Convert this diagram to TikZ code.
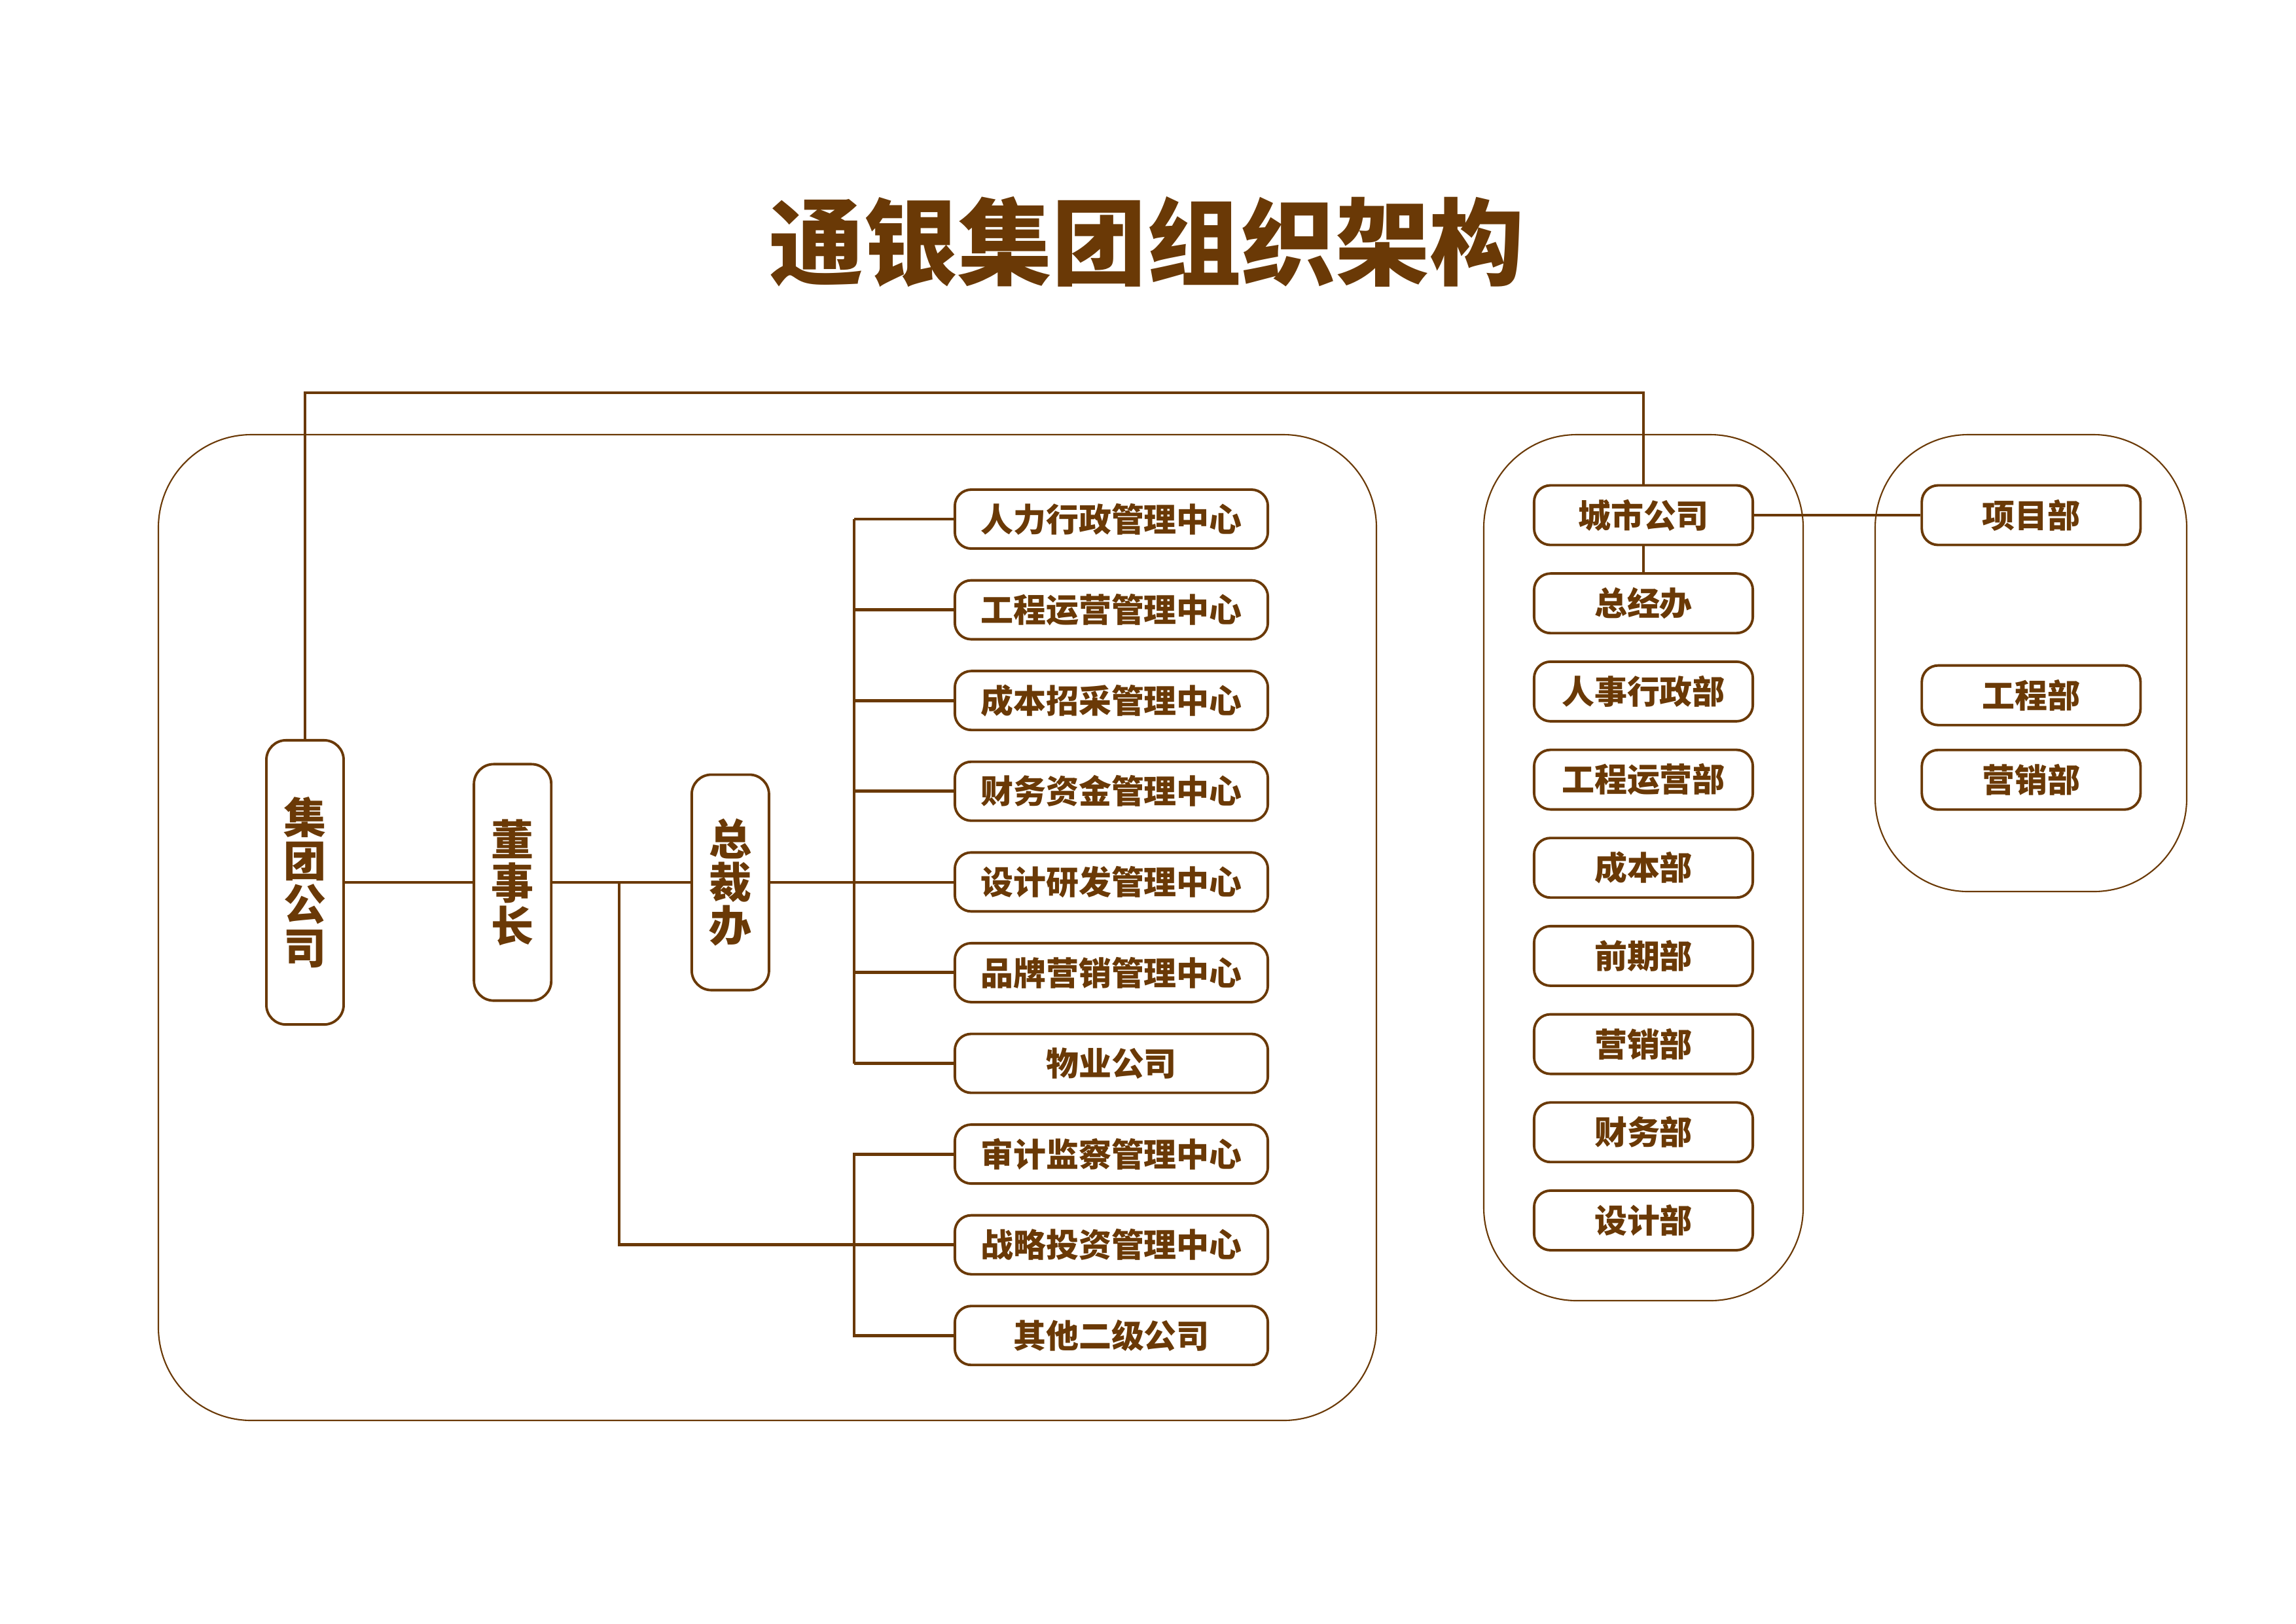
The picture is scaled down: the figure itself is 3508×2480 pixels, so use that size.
\documentclass[tikz,border=0pt]{standalone}
\usepackage{fontspec}
\setmainfont{Noto Sans CJK SC}
\usetikzlibrary{positioning}

\definecolor{brn}{HTML}{6A3906}

\tikzset{
  panel/.style={draw=brn,line width=0.6pt,rounded corners=1.42cm},
  vbox/.style={draw=brn,line width=1.1pt,rounded corners=0.3cm,fill=white,
    minimum width=1.18cm,inner sep=0pt,align=center,text=brn,
    font=\fontsize{18.5}{18.8}\selectfont\bfseries},
  hbox/.style={draw=brn,line width=1.1pt,rounded corners=0.25cm,fill=white,
    minimum width=4.78cm,minimum height=0.9cm,inner sep=0pt,text=brn,
    font=\fontsize{14.2}{16}\selectfont\bfseries},
  dbox/.style={hbox,minimum width=3.34cm,minimum height=0.91cm},
  link/.style={draw=brn,line width=1.4pt}
}

\begin{document}
\begin{tikzpicture}[x=0.01cm,y=-0.01cm,node distance=2cm,on grid]
   \useasboundingbox (0,0) rectangle (3508,2480);
   \fill[white] (0,0) rectangle (3508,2480);

   \node[text=brn,font=\fontsize{41}{45}\selectfont\bfseries] (title) at (1752,370) {通银集团组织架构};

   % panels
   \draw[panel] (242,664) rectangle (2103,2170);
   \draw[panel] (2267,664) rectangle (2755,1987);
   \draw[panel] (2865,664) rectangle (3341,1362);

   % group side
   \node[vbox,minimum height=4.34cm] (jt) at (466,1348) {集\\团\\公\\司};
   \node[vbox,minimum height=3.61cm] (dsz) [right=3.17cm of jt] {董\\事\\长};
   \node[vbox,minimum height=3.29cm] (zcb) [right=3.325cm of dsz] {总\\裁\\办};

   \node[hbox] (c_1) at (1698,793) {人力行政管理中心};
   \node[hbox] (c_2) [below=1.385cm of c_1] {工程运营管理中心};
   \node[hbox] (c_3) [below=1.385cm of c_2] {成本招采管理中心};
   \node[hbox] (c_4) [below=1.385cm of c_3] {财务资金管理中心};
   \node[hbox] (c_5) [below=1.385cm of c_4] {设计研发管理中心};
   \node[hbox] (c_6) [below=1.385cm of c_5] {品牌营销管理中心};
   \node[hbox] (c_7) [below=1.385cm of c_6] {物业公司};
   \node[hbox] (c_8) [below=1.385cm of c_7] {审计监察管理中心};
   \node[hbox] (c_9) [below=1.385cm of c_8] {战略投资管理中心};
   \node[hbox] (c_10) [below=1.385cm of c_9] {其他二级公司};

   % city side
   \node[dbox] (city) at (2511,787) {城市公司};
   \node[dbox] (d_1) [below=1.346cm of city] {总经办};
   \node[dbox] (d_2) [below=1.346cm of d_1] {人事行政部};
   \node[dbox] (d_3) [below=1.346cm of d_2] {工程运营部};
   \node[dbox] (d_4) [below=1.346cm of d_3] {成本部};
   \node[dbox] (d_5) [below=1.346cm of d_4] {前期部};
   \node[dbox] (d_6) [below=1.346cm of d_5] {营销部};
   \node[dbox] (d_7) [below=1.346cm of d_6] {财务部};
   \node[dbox] (d_8) [below=1.346cm of d_7] {设计部};

   \node[dbox] (p_1) [right=5.92cm of city] {项目部};
   \node[dbox] (p_2) [below=2.75cm of p_1] {工程部};
   \node[dbox] (p_3) [below=1.29cm of p_2] {营销部};

   \coordinate (top) at (466,600);
   \coordinate (bus) at (1305,793);
   \coordinate (split) at (946,1348);

   % connectors
   \draw[link] (jt.north) -- (top) -| (city.north);
   \draw[link] (jt.east) -- (dsz.west);
   \draw[link] (dsz.east) -- (zcb.west);
   \draw[link] (zcb.east) -- (zcb.east -| c_5.west);
   \draw[link] (c_1.west -| bus) -- (c_7.west -| bus);
   \draw[link] (c_1.west) -- (c_1.west -| bus);
   \draw[link] (c_2.west) -- (c_2.west -| bus);
   \draw[link] (c_3.west) -- (c_3.west -| bus);
   \draw[link] (c_4.west) -- (c_4.west -| bus);
   \draw[link] (c_6.west) -- (c_6.west -| bus);
   \draw[link] (c_7.west) -- (c_7.west -| bus);
   \draw[link] (split) |- (c_9.west);
   \draw[link] (c_8.west) -| (bus |- c_10.west) -- (c_10.west);
   \draw[link] (city.south) -- (d_1.north);
   \draw[link] (city.east) -- (p_1.west);
\end{tikzpicture}
\end{document}
